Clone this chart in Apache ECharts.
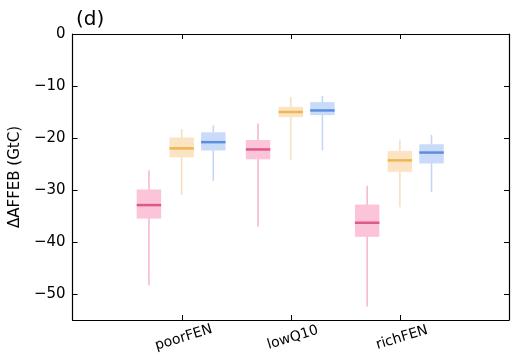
<!DOCTYPE html>
<html><head><meta charset="utf-8">
<script src="https://cdn.jsdelivr.net/npm/echarts@6/dist/echarts.min.js"></script>
<style>html,body{margin:0;padding:0;background:#fff}#c{width:526px;height:355px}</style>
</head><body><div id="c"></div>
<script>
var categories = ['poorFEN', 'lowQ10', 'richFEN'];
// [whiskerLow, Q1, median, Q3, whiskerHigh]
var pinkBoxes = [[-48.3, -35.5, -32.9, -29.9, -26.2], [-37.0, -24.1, -22.2, -20.4, -17.2], [-52.4, -39.0, -36.3, -32.8, -29.2]];
var orangeBoxes = [[-31.0, -23.7, -22.0, -19.9, -18.3], [-24.2, -16.0, -15.0, -14.0, -12.1], [-33.3, -26.5, -24.3, -22.5, -20.3]];
var blueBoxes = [[-28.2, -22.4, -20.8, -18.9, -17.6], [-22.4, -15.6, -14.7, -13.1, -11.9], [-30.4, -24.9, -22.8, -21.2, -19.4]];
var yTickValues = [0, -10, -20, -30, -40, -50];
var xTickValues = [1, 2, 3];
var yMin = -55, yMax = 0;

var groups = [
  {data: pinkBoxes, offset: -0.3, fill: '#fbc4d8', median: '#e0578a', whisker: '#f6b9cf'},
  {data: orangeBoxes, offset: 0, fill: '#fbe3c4', median: '#efb54e', whisker: '#f7e0bf'},
  {data: blueBoxes, offset: 0.29, fill: '#c9dbf8', median: '#5b8ee0', whisker: '#c3d6f5'}
];
var halfW = 0.112;
var tickLen = 5;

function makeSeries(g) {
  return {
    type: 'custom',
    xAxisIndex: 0, yAxisIndex: 0,
    data: g.data.map(function (b, i) { return [i + 1 + g.offset].concat(b); }),
    encode: {x: 0, y: [1, 2, 3, 4, 5]},
    renderItem: function (params, api) {
      var x = api.value(0);
      var lo = api.coord([x, api.value(1)]);
      var q1 = api.coord([x - halfW, api.value(2)]);
      var med = api.value(3);
      var q3 = api.coord([x + halfW, api.value(4)]);
      var hi = api.coord([x, api.value(5)]);
      var mL = api.coord([x - halfW, med]);
      var mR = api.coord([x + halfW, med]);
      return {
        type: 'group',
        children: [
          {type: 'line', shape: {x1: lo[0], y1: lo[1], x2: hi[0], y2: hi[1]}, style: {stroke: g.whisker, lineWidth: 1.6}},
          {type: 'rect', shape: {x: q1[0], y: q3[1], width: q3[0] - q1[0], height: q1[1] - q3[1]}, style: {fill: g.fill, stroke: null}},
          {type: 'line', shape: {x1: mL[0], y1: mL[1], x2: mR[0], y2: mR[1]}, style: {stroke: g.median, lineWidth: 2.5}}
        ]
      };
    }
  };
}

// inward ticks on all four sides, placed through the axes' scales
// each datum: [x value, y value, kind] with kind 0 = y tick, 1 = x tick
var tickData = yTickValues.map(function (v) { return [0, v, 0]; })
  .concat(xTickValues.map(function (v) { return [v, yMin, 1]; }));
var tickSeries = {
  type: 'custom',
  xAxisIndex: 0, yAxisIndex: 0,
  silent: true,
  data: tickData,
  encode: {x: 0, y: 1},
  renderItem: function (params, api) {
    var cs = params.coordSys;
    var pt = api.coord([api.value(0), api.value(1)]);
    var kind = api.value(2);
    var st = {stroke: '#000', lineWidth: 1};
    if (kind === 0) {
      var py = Math.round(pt[1]) + 0.5;
      return {type: 'group', children: [
        {type: 'line', shape: {x1: cs.x, y1: py, x2: cs.x + tickLen, y2: py}, style: st},
        {type: 'line', shape: {x1: cs.x + cs.width - tickLen, y1: py, x2: cs.x + cs.width, y2: py}, style: st}
      ]};
    }
    var px = Math.round(pt[0]) + 0.5;
    return {type: 'group', children: [
      {type: 'line', shape: {x1: px, y1: cs.y, x2: px, y2: cs.y + tickLen}, style: st},
      {type: 'line', shape: {x1: px, y1: cs.y + cs.height - tickLen, x2: px, y2: cs.y + cs.height}, style: st}
    ]};
  }
};

function axisLineX() { return {show: true, onZero: false, lineStyle: {color: '#000', width: 1.2}}; }
function axisLineY() { return {show: true, onZero: false, lineStyle: {color: '#000', width: 1.2}}; }

var chart = echarts.init(document.getElementById('c'), null, {renderer: 'canvas'});
var font = 'DejaVu Sans';
chart.setOption({
  animation: false,
  textStyle: {fontFamily: font},
  title: {text: '(d)', left: 71, top: 5, textStyle: {fontFamily: font, fontSize: 20, fontWeight: 'normal', color: '#000'}},
  grid: [{left: 72, right: 17, top: 34, bottom: 35}],
  xAxis: [
    {type: 'value', min: 0, max: 4, interval: 1, position: 'bottom',
     axisLine: axisLineX(), axisTick: {show: false},
     splitLine: {show: false},
     axisLabel: {rotate: 17, fontSize: 14, color: '#000', margin: 11, align: 'center', verticalAlign: 'top',
       formatter: function (v) { return (v >= 1 && v <= 3) ? categories[v - 1] : ''; }}},
    {type: 'value', min: 0, max: 4, interval: 1, position: 'top',
     axisLine: axisLineX(), axisTick: {show: false},
     splitLine: {show: false}, axisLabel: {show: false}}
  ],
  yAxis: [
    {type: 'value', min: yMin, max: yMax, show: false, splitLine: {show: false}},
    {type: 'value', min: -yMax, max: -yMin, interval: 10, inverse: true, position: 'left',
     name: 'ΔAFFEB (GtC)', nameLocation: 'middle', nameGap: 35, nameTextStyle: {fontSize: 15, color: '#000', fontFamily: font},
     axisLine: axisLineY(), axisTick: {show: false},
     splitLine: {show: false},
     axisLabel: {fontSize: 15, color: '#000', margin: 7, showMaxLabel: false,
       formatter: function (v) { return v > 0 ? '\u2212' + v : '0'; }}},
    {type: 'value', min: -yMax, max: -yMin, interval: 10, inverse: true, position: 'right',
     axisLine: axisLineY(), axisTick: {show: false},
     splitLine: {show: false}, axisLabel: {show: false}}
  ],
  series: groups.map(makeSeries).concat([tickSeries])
});
</script></body></html>
